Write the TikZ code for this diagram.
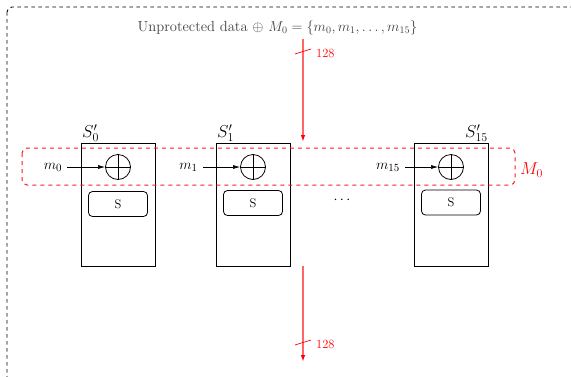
\documentclass[tikz,border=0pt]{standalone}
\usetikzlibrary{arrows.meta}
\begin{document}
\begin{tikzpicture}[x=1pt,y=-1pt,
  reg/.style={draw, line width=0.9pt, minimum width=74pt, minimum height=123pt, inner sep=0pt},
  sbox/.style={draw, rounded corners=4pt, line width=0.8pt, minimum width=59pt, minimum height=25pt, inner sep=0pt, font=\fontsize{12.5}{15}\selectfont},
  xorop/.style={draw, circle, line width=0.8pt, minimum size=25pt, inner sep=0pt,
    path picture={\draw[line width=0.8pt] (path picture bounding box.north) -- (path picture bounding box.south)
      (path picture bounding box.west) -- (path picture bounding box.east);}},
  inlbl/.style={font=\fontsize{15}{17}\selectfont, inner sep=1pt},
  reglbl/.style={font=\fontsize{17.5}{20}\selectfont, inner sep=1pt},
  feed/.style={-{Latex[length=7pt,width=4pt]}, line width=0.6pt},
  bus/.style={red!60, line width=1.4pt, -{Latex[length=7pt,width=4.5pt,color=red]}},
  width/.style={red, line width=0.7pt},
  widthlbl/.style={red, font=\fontsize{12.5}{14}\selectfont, inner sep=1pt, anchor=west}
]
\useasboundingbox (0,0) rectangle (571,376);
\clip (0,0) rectangle (571,376);

% outer frame of the unprotected domain
\draw[dashed, dash pattern=on 3.5pt off 3.5pt, line width=0.9pt, rounded corners=5pt] (7,7) rectangle (600,400);

% title
\node[black!75, font=\fontsize{14.6}{17}\selectfont, inner sep=0pt] (title) at (277.5,28)
  {Unprotected data $\oplus$ $M_0=\{m_0,m_1,\ldots,m_{15}\}$};

% register blocks
\node[reg] (b0) at (118,204.5) {};
\node[reg] (b1) at (253,204.5) {};
\node[reg] (b15) at (451,204.5) {};

\node[reglbl, anchor=south west] (r0) at (81,143) {$S'_0$};
\node[reglbl, anchor=south west] (r1) at (216,143) {$S'_1$};
\node[reglbl, anchor=south east] (r15) at (489,143) {$S'_{15}$};

% xor gates
\node[xorop] (x0) at (118,167) {};
\node[xorop] (x1) at (253,167) {};
\node[xorop] (x15) at (451,167) {};

% S boxes
\node[sbox] (s0) at (118,204) {S};
\node[sbox] (s1) at (253,203) {S};
\node[sbox] (s15) at (451,202.5) {S};

% mask inputs
\node[inlbl] (m0) at (53,167) {$m_0$};
\node[inlbl] (m1) at (188.5,167) {$m_1$};
\node[inlbl] (m15) at (388,167) {$m_{15}$};
\draw[feed] (m0.east) ++(4,0) -- (x0.west);
\draw[feed] (m1.east) ++(4,0) -- (x1.west);
\draw[feed] (m15.east) ++(4,0) -- (x15.west);

\node[font=\fontsize{15}{17}\selectfont] (dots) at (342,200) {$\cdots$};

% mask M_0 region
\draw[red!90, dashed, dash pattern=on 4pt off 4pt, line width=1pt, rounded corners=5pt] (22,148) rectangle (515,185);
\node[red, font=\fontsize{16.5}{19}\selectfont, anchor=west, inner sep=1pt] (mask) at (519,170) {$M_0$};

% 128-bit data bus in and out
\coordinate (inTop) at (303,39);
\coordinate (inEnd) at (303,142);
\coordinate (outTop) at (303,266);
\coordinate (outEnd) at (303,362);
\draw[bus] (inTop) -- (inEnd);
\draw[bus] (outTop) -- (outEnd);
\draw[width] (295,54) -- (311,49);
\node[widthlbl] (w1) at (315,53) {128};
\draw[width] (295,345) -- (311,340);
\node[widthlbl] (w2) at (315,344) {128};
\end{tikzpicture}
\end{document}
